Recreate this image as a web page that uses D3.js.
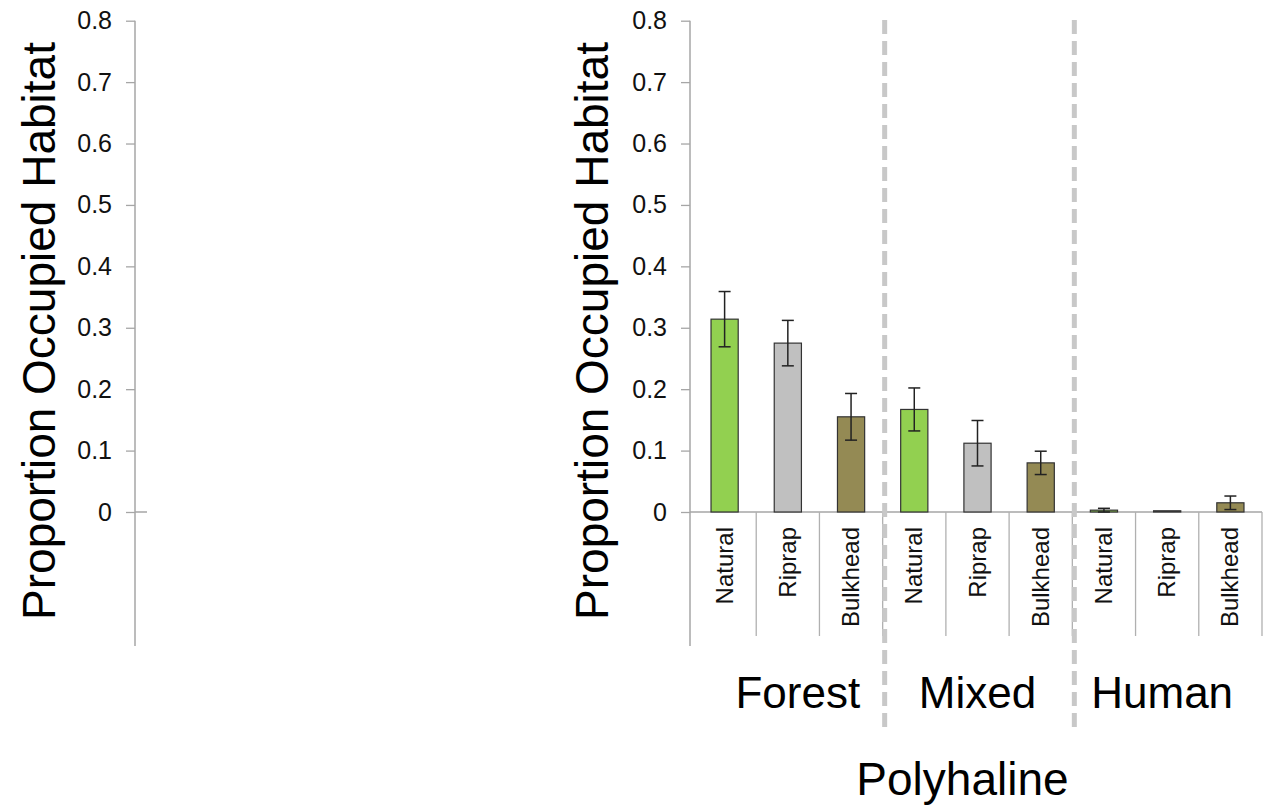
<!DOCTYPE html>
<html>
<head>
<meta charset="utf-8">
<script src="https://cdn.jsdelivr.net/npm/d3@7"></script>
<style>
  html, body { margin: 0; padding: 0; background: #fff; }
  svg { display: block; font-family: "Liberation Sans", Arial, sans-serif; }
</style>
</head>
<body>
<svg id="chart" width="1267" height="808"></svg>
<script>
// ---- data ----
const groups = ["Forest", "Mixed", "Human"];
const shorelines = ["Natural", "Riprap", "Bulkhead"];
const categories = ["Forest|Natural", "Forest|Riprap", "Forest|Bulkhead",
                    "Mixed|Natural", "Mixed|Riprap", "Mixed|Bulkhead",
                    "Human|Natural", "Human|Riprap", "Human|Bulkhead"];
const values = [0.314, 0.275, 0.155, 0.167, 0.112, 0.080, 0.003, 0.002, 0.015];
const errors = [0.045, 0.037, 0.038, 0.035, 0.037, 0.019, 0.003, 0.0, 0.011];
const yTicks = [0, 0.1, 0.2, 0.3, 0.4, 0.5, 0.6, 0.7, 0.8];
const yTickLabels = ["0", "0.1", "0.2", "0.3", "0.4", "0.5", "0.6", "0.7", "0.8"];
const yTitle = "Proportion Occupied Habitat";
const xTitle = "Polyhaline";
const colors = {Natural: "#92d050", Riprap: "#c0c0c0", Bulkhead: "#948a54"};

const svg = d3.select("#chart");
const axisColor = "#a6a6a6";

const y = d3.scaleLinear().domain([0, 0.8]).range([512, 20.7]);

function drawYAxis(axisX, titleX, zeroExt) {
  const g = svg.append("g").attr("transform", `translate(${axisX},0)`);
  const ax = d3.axisLeft(y).tickValues(yTicks)
    .tickFormat((d, i) => yTickLabels[i]).tickSize(9).tickPadding(14);
  g.call(ax);
  g.select(".domain").remove();
  g.selectAll(".tick line").attr("stroke", axisColor).attr("stroke-width", 1.3);
  g.selectAll(".tick text").attr("fill", "#111").style("font-size", "25px")
    .style("font-family", "Liberation Sans, Arial, sans-serif");
  g.append("line").attr("x1", 0).attr("x2", 0).attr("y1", y(0.8)).attr("y2", 646)
    .attr("stroke", axisColor).attr("stroke-width", 1.5);
  if (zeroExt) {
    g.append("line").attr("x1", 0).attr("x2", zeroExt).attr("y1", y(0)).attr("y2", y(0))
      .attr("stroke", axisColor).attr("stroke-width", 1.5);
  }
  svg.append("text")
    .attr("transform", `translate(${titleX},${331}) rotate(-90)`)
    .attr("text-anchor", "middle")
    .style("font-size", "46px").attr("fill", "#000")
    .text(yTitle);
}

// left (empty) panel
drawYAxis(135, 55, 12);
// right panel
drawYAxis(690, 608, 0);

const x = d3.scaleBand().domain(categories).range([693, 1262]).paddingInner(0.57).paddingOuter(0.285);
const step = x.step();
const x0 = x.range()[0];

// baseline
svg.append("line").attr("x1", 690).attr("x2", x.range()[1]).attr("y1", y(0)).attr("y2", y(0))
  .attr("stroke", axisColor).attr("stroke-width", 1.5);

// category separators
d3.range(1, categories.length + 1).forEach(i => {
  const sx = x0 + i * step;
  svg.append("line").attr("x1", sx).attr("x2", sx).attr("y1", y(0)).attr("y2", 636)
    .attr("stroke", "#b0b0b0").attr("stroke-width", 1.3);
});

// bars
const data = categories.map((c, i) => ({c, sh: c.split("|")[1], v: values[i], e: errors[i]}));
svg.append("g").selectAll("rect").data(data).join("rect")
  .attr("x", d => x(d.c)).attr("width", x.bandwidth())
  .attr("y", d => y(d.v)).attr("height", d => y(0) - y(d.v))
  .attr("fill", d => colors[d.sh]).attr("stroke", "#333").attr("stroke-width", 1.2);

// error bars
const eg = svg.append("g").attr("stroke", "#222").attr("stroke-width", 1.5);
data.forEach(d => {
  if (d.e <= 0) return;
  const cx = x(d.c) + x.bandwidth() / 2;
  eg.append("line").attr("x1", cx).attr("x2", cx).attr("y1", y(d.v + d.e)).attr("y2", y(d.v - d.e));
  eg.append("line").attr("x1", cx - 6).attr("x2", cx + 6).attr("y1", y(d.v + d.e)).attr("y2", y(d.v + d.e));
  eg.append("line").attr("x1", cx - 6).attr("x2", cx + 6).attr("y1", y(d.v - d.e)).attr("y2", y(d.v - d.e));
});

// category labels (rotated)
data.forEach(d => {
  const cx = x(d.c) + x.bandwidth() / 2;
  svg.append("text")
    .attr("transform", `translate(${cx + 8},${527}) rotate(-90)`)
    .attr("text-anchor", "end")
    .style("font-size", "24px").attr("fill", "#111")
    .text(d.sh);
});

// dashed group separators
[3, 6].forEach(i => {
  const sx = x0 + i * step + 2;
  svg.append("line").attr("x1", sx).attr("x2", sx).attr("y1", 20).attr("y2", 732)
    .attr("stroke", "#c8c8c8").attr("stroke-width", 5).attr("stroke-dasharray", "14,7");
});

// group labels (small nudges to match the original placement)
const groupNudge = [10, 0, -5];
groups.forEach((g, i) => {
  const cx = x0 + (i * 3 + 1.5) * step + groupNudge[i];
  svg.append("text").attr("x", cx).attr("y", 708).attr("text-anchor", "middle")
    .style("font-size", "44px").attr("fill", "#000").text(g);
});

// x title
svg.append("text").attr("x", x0 + 4.5 * step - 15).attr("y", 795).attr("text-anchor", "middle")
  .style("font-size", "46px").attr("fill", "#000").text(xTitle);
</script>
</body>
</html>
